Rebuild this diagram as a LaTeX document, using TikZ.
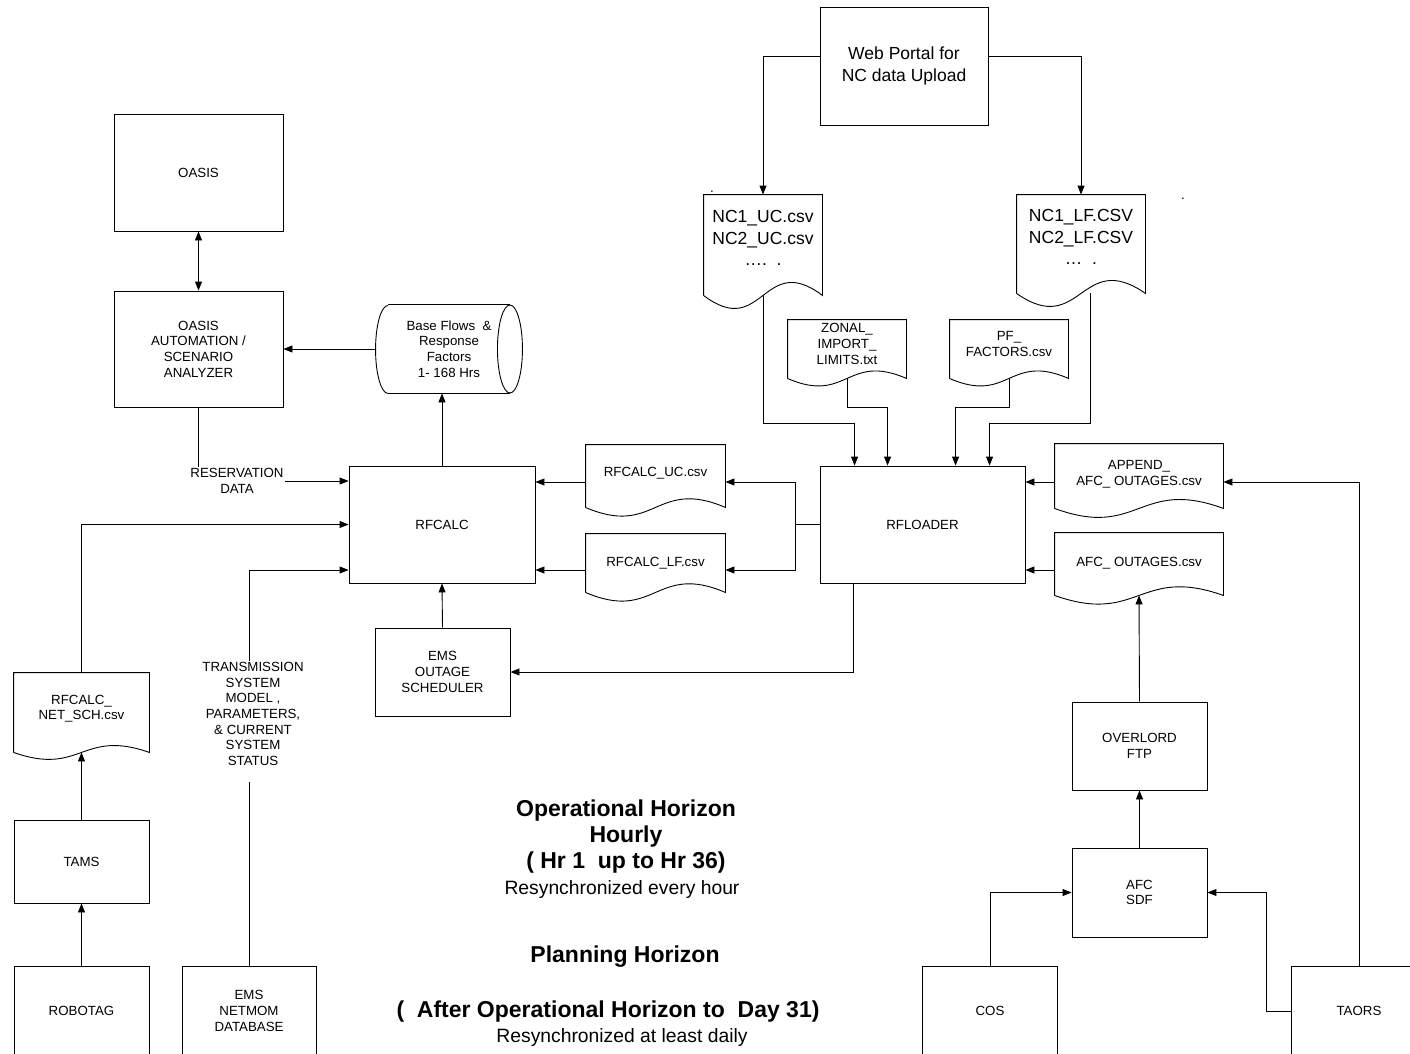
\documentclass[tikz,border=0pt]{standalone}
\usepackage{fontspec}
\setmainfont{Liberation Sans}
\usetikzlibrary{arrows.meta,calc}

\newcommand\smallfont{\fontsize{13.3}{15.6}\selectfont}
\newcommand\midfont{\fontsize{17.5}{21.5}\selectfont}
\newcommand\titlefont{\fontsize{23}{26}\selectfont\bfseries}
\newcommand\subfont{\fontsize{19.3}{22}\selectfont}

\tikzset{
  box/.style={draw, align=center, font=\smallfont, inner sep=0pt},
  doc/.style={align=center, font=\smallfont, inner sep=0pt},
  lbl/.style={align=center, font=\smallfont, inner sep=1pt},
  arr/.style={-{Triangle[length=9pt,width=7pt]}},
  arrboth/.style={{Triangle[length=9pt,width=7pt]}-{Triangle[length=9pt,width=7pt]}},
}

\begin{document}
\begin{tikzpicture}[x=1pt,y=-1pt,line width=0.9pt]
  \useasboundingbox (0,0) rectangle (1410,1054);

  %% upload side
  \node[box, font=\midfont, minimum width=168, minimum height=118] (web) at (904,66) {Web Portal for\\NC data Upload};
  \node[doc, font=\midfont, minimum width=118, minimum height=86] (ncuc) at (763,238) {NC1\_UC.csv\\NC2\_UC.csv\\\dots.\ \ .};
  \node[doc, font=\midfont, minimum width=128, minimum height=84] (nclf) at (1081,237) {NC1\_LF.CSV\\NC2\_LF.CSV\\\dots\ \ .};
  \node[font=\smallfont, inner sep=0pt, anchor=base] (dotA) at (712,192) {.};
  \node[font=\smallfont, inner sep=0pt, anchor=base] (dotB) at (1183,199) {.};
  \node[doc, minimum width=118, minimum height=48] (zonal) at (847,344) {ZONAL\_\\IMPORT\_\\LIMITS.txt};
  \node[doc, minimum width=118, minimum height=48] (pf) at (1009,344) {PF\_\\FACTORS.csv};

  %% loader and calc
  \node[box, minimum width=205, minimum height=117] (rfloader) at (922.5,524.5) {RFLOADER};
  \node[box, minimum width=186, minimum height=117] (rfcalc) at (442,524.5) {RFCALC};
  \node[doc, minimum width=139, minimum height=56] (rfuc) at (655.5,473) {RFCALC\_UC.csv};
  \node[doc, minimum width=139, minimum height=58] (rflf) at (655.5,563) {RFCALC\_LF.csv};
  \node[doc, minimum width=168, minimum height=60] (appaf) at (1139,474) {APPEND\_\\AFC\_ OUTAGES.csv};
  \node[doc, minimum width=168, minimum height=60] (afc) at (1139,563) {AFC\_ OUTAGES.csv};

  %% AFC chain
  \node[box, minimum width=135, minimum height=88] (overlord) at (1139.5,746) {OVERLORD\\FTP};
  \node[box, minimum width=135, minimum height=89] (afcsdf) at (1139.5,892.5) {AFC\\SDF};
  \node[box, minimum width=135, minimum height=90] (cos) at (990,1011) {COS};
  \node[box, minimum width=136, minimum height=90] (taors) at (1359,1011) {TAORS};

  %% left side
  \node[box, minimum width=169, minimum height=117] (oasis) at (198.5,172.5) {OASIS};
  \node[box, minimum width=169, minimum height=116] (oasauto) at (198.5,349) {OASIS\\AUTOMATION /\\SCENARIO\\ANALYZER};
  \node[doc, minimum width=146, minimum height=88] (base) at (449,349) {Base Flows\ \ \&\\Response\\Factors\\1- 168 Hrs};
  \node[lbl] (resv) at (237,481) {RESERVATION\\DATA};
  \node[doc, minimum width=135, minimum height=71] (netsch) at (81.5,708.5) {RFCALC\_\\NET\_SCH.csv};
  \node[box, minimum width=135, minimum height=83] (tams) at (81.5,861.5) {TAMS};
  \node[box, minimum width=135, minimum height=90] (robotag) at (81.5,1011) {ROBOTAG};
  \node[box, minimum width=134, minimum height=90] (emsnet) at (249,1011) {EMS\\NETMOM\\DATABASE};
  \node[lbl] (trans) at (253,714) {TRANSMISSION\\SYSTEM\\MODEL ,\\PARAMETERS,\\\& CURRENT\\SYSTEM\\STATUS};
  \node[box, minimum width=135, minimum height=88] (emsout) at (442.5,672) {EMS\\OUTAGE\\SCHEDULER};

  %% horizons
  \node[font=\titlefont, align=center, inner sep=0pt] (ophor) at (626,837) {Operational Horizon\\Hourly\\(\ Hr 1\ \ up to Hr 36)};
  \node[font=\subfont, inner sep=0pt] (opsync) at (622,889) {Resynchronized every hour};
  \node[font=\titlefont, inner sep=0pt] (plhor) at (625,957) {Planning Horizon};
  \node[font=\titlefont, inner sep=0pt] (plrange) at (608,1012) {(\ \ After Operational Horizon to\ \ Day 31)};
  \node[font=\subfont, inner sep=0pt] (plsync) at (622,1037) {Resynchronized at least daily};

  %% document outlines (\lift = how far the wave line sits below the node)
  \foreach \docname/\amp/\lift in {ncuc/45/14,nclf/45/14,zonal/26/10,pf/26/10,rfuc/30/6,rflf/30/0,appaf/31/4,afc/30/2,netsch/24/8}
    \draw ([yshift=-\lift pt]\docname.south west) -- (\docname.north west) -- (\docname.north east) -- ([yshift=-\lift pt]\docname.south east)
      .. controls ($(\docname.south)+(0,\lift-\amp)$) and ($(\docname.south)+(0,\lift+\amp)$) .. ([yshift=-\lift pt]\docname.south west);

  %% data store
  \draw ([xshift=12.5pt]base.north west) -- ([xshift=-12.5pt]base.north east)
        ([xshift=12.5pt]base.south west) -- ([xshift=-12.5pt]base.south east);
  \draw ([xshift=-12.5pt]base.east) ellipse [x radius=12.5pt, y radius=44pt];
  \draw ([xshift=12.5pt]base.south west) arc [start angle=270, end angle=90, x radius=12.5pt, y radius=44pt];

  %% helper points
  \coordinate (split) at ([xshift=-24pt]rfloader.west);
  \path ([yshift=-9pt]rfuc.east) coordinate (ucR) ([yshift=-9pt]rfuc.west) coordinate (ucL)
        ([yshift=-7pt]rflf.east) coordinate (lfR) ([yshift=-7pt]rflf.west) coordinate (lfL)
        ([yshift=-8pt]appaf.east) coordinate (apR) ([yshift=-8pt]appaf.west) coordinate (apL)
        ([yshift=-7pt]afc.west) coordinate (afL)
        (emsnet.north |- trans.south) coordinate (tb)
        (emsnet.north |- trans.north) coordinate (tt)
        ([yshift=-45.5pt]rfcalc.west) coordinate (tin);

  %% web portal
  \draw[arr] ([yshift=10pt]web.west) -| (ncuc.north);
  \draw[arr] ([yshift=10pt]web.east) -| (nclf.north);

  %% into RFLOADER
  \draw[arr] ([yshift=-14pt]ncuc.south) -- ++(0,128) -| ([xshift=35pt]rfloader.north west);
  \draw[arr] ([yshift=-10pt]zonal.south) -- ++(0,29) -| ([xshift=68pt]rfloader.north west);
  \draw[arr] ([yshift=-10pt]pf.south) -- ++(0,29) -| ([xshift=136pt]rfloader.north west);
  \draw[arr] ([xshift=9pt,yshift=-14pt]nclf.south) -- ++(0,130) -| ([xshift=170pt]rfloader.north west);
  \draw[arr] (apL) -- (apL -| rfloader.east);
  \draw[arr] (afL) -- (afL -| rfloader.east);

  %% RFLOADER out
  \draw (rfloader.west) -- (split);
  \draw[arr] (split) |- (ucR);
  \draw[arr] (split) |- (lfR);
  \draw[arr] ([xshift=-69.5pt]rfloader.south) |- (emsout.east);

  %% into RFCALC
  \draw[arr] (ucL) -- (ucL -| rfcalc.east);
  \draw[arr] (lfL) -- (lfL -| rfcalc.east);
  \draw[arr] (emsout.north) -- (rfcalc.south);
  \draw[arr] (resv.east) -- (resv.east -| rfcalc.west);
  \draw[arr] (netsch.north) |- (rfcalc.west);
  \draw[arr] (tt) |- (tin);
  \draw (emsnet.north) -- ([yshift=-15pt]tb);
  \draw[arr] (rfcalc.north) -- (rfcalc.north |- base.south);

  %% OASIS
  \draw[arr] (base.west) -- (oasauto.east);
  \draw[arrboth] (oasis.south) -- (oasauto.north);
  \draw (oasauto.south) -- (oasauto.south |- resv.north);

  %% left chain
  \draw[arr] (tams.north) -- ([yshift=-8pt]netsch.south);
  \draw[arr] (robotag.north) -- (tams.south);

  %% AFC chain
  \draw[arr] (overlord.north) -- ([yshift=-2pt]afc.south);
  \draw[arr] (afcsdf.north) -- (overlord.south);
  \draw[arr] (cos.north) |- (afcsdf.west);
  \draw[arr] (taors.west) -- ++(-24,0) |- (afcsdf.east);
  \draw[arr] (taors.north) |- (apR);

\end{tikzpicture}
\end{document}
